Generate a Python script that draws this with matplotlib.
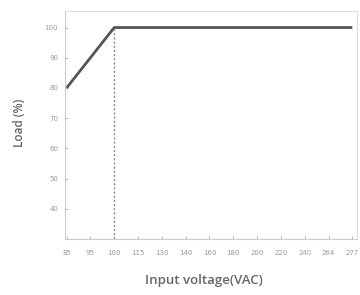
import matplotlib.pyplot as plt

# derating curve: load vs input voltage (categorical ticks, evenly spaced)
voltage_labels = ['85', '95', '100', '115', '130', '140', '160', '180', '200', '220', '240', '264', '277']
curve_voltage = ['85', '100', '277']
curve_load = [80, 100, 100]
y_ticks = [40, 50, 60, 70, 80, 90, 100]
knee_voltage = '100'
knee_load = 100

pos = {v: i for i, v in enumerate(voltage_labels)}

fig = plt.figure(figsize=(3.6, 2.95), dpi=100)
ax = fig.add_axes([0.181, 0.19, 0.811, 0.773])

ax.plot([pos[v] for v in curve_voltage], curve_load, color='#555555', lw=2.0, solid_capstyle='butt')
ax.plot([pos[knee_voltage], pos[knee_voltage]], [30, knee_load], color='#888888', lw=1.0,
        ls=(0, (1.5, 1.5)))

ax.set_xlim(-0.06, 12.2)
ax.set_ylim(30, 105.5)
ax.set_xticks(range(len(voltage_labels)))
ax.set_xticklabels(voltage_labels)
ax.set_yticks(y_ticks)

for s in ax.spines.values():
    s.set_color('#dddddd')
    s.set_linewidth(0.8)
ax.spines['left'].set_color('#cccccc')
ax.spines['bottom'].set_color('#cccccc')

ax.tick_params(axis='both', labelsize=5, colors='#999999', length=2, width=0.5, direction='in')
ax.tick_params(axis='y', pad=5)
ax.tick_params(axis='x', pad=8)

ax.set_xlabel('Input voltage(VAC)', fontsize=9.5, color='#666666', fontweight='semibold',
              family='Open Sans')
ax.xaxis.set_label_coords(0.474, -0.155)
ax.set_ylabel('Load (%)', fontsize=8.5, color='#666666', fontweight='semibold',
              family='Open Sans')
ax.yaxis.set_label_coords(-0.135, 0.51)

fig.savefig('out.png', dpi=100)
